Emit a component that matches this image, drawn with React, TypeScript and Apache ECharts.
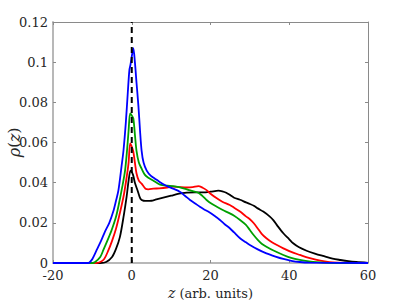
import React, { useEffect, useRef } from "react";
import * as echarts from "echarts";

const xTicks = { min: -20, max: 60, interval: 20 };
const yTicks = { min: 0, max: 0.12, interval: 0.02 };

const blackData: [number, number][] = [[-20,0],[-8,0],[-6.5,0.0005],[-5,0.003],[-4,0.007],[-3,0.013],[-2,0.024],[-1.3,0.033],[-0.8,0.041],[-0.3,0.046],[0.3,0.044],[0.8,0.040],[1.5,0.036],[2.2,0.032],[3,0.031],[4,0.0309],[5,0.031],[6,0.0315],[7,0.032],[8,0.0325],[10,0.0335],[12,0.0345],[14,0.035],[16,0.0352],[18,0.0352],[20,0.0355],[22,0.036],[23,0.0357],[24,0.035],[25,0.0338],[26,0.0325],[27.5,0.0315],[29,0.0302],[30,0.0294],[31,0.0285],[32,0.0272],[33.4,0.0256],[35,0.0232],[36,0.0212],[37,0.0185],[38.5,0.0148],[40,0.0118],[41,0.0098],[42.5,0.0078],[44.4,0.0061],[46.5,0.0047],[48.6,0.0035],[51,0.0022],[53,0.0015],[55,0.0009],[57,0.0005],[60,0.0001]];

const redData: [number, number][] = [[-20,0],[-9,0],[-8,0.0005],[-7,0.002],[-6,0.006],[-5,0.011],[-4,0.017],[-3,0.025],[-2,0.034],[-1.2,0.044],[-0.8,0.05],[-0.4,0.0596],[0,0.058],[0.4,0.0554],[0.8,0.05],[1.2,0.0447],[1.8,0.041],[2.5,0.0395],[3.5,0.037],[4.2,0.0367],[5.5,0.037],[7,0.0372],[9,0.0376],[10.5,0.038],[12,0.0378],[14,0.0376],[15.5,0.0378],[16.9,0.0383],[18,0.0375],[19,0.0363],[20,0.0345],[21.6,0.0322],[23,0.0305],[24.9,0.0289],[26,0.0275],[27.5,0.0256],[29,0.0232],[30,0.0218],[31,0.0198],[32,0.0172],[33,0.0145],[34.2,0.0123],[35.5,0.0105],[37,0.0088],[38.5,0.0073],[40.5,0.0055],[42.7,0.004],[45,0.0025],[47,0.0015],[49,0.0008],[51,0.0003],[54,0.0001],[60,0]];

const greenData: [number, number][] = [[-20,0],[-10,0],[-9.3,0.0005],[-8,0.003],[-7.2,0.0065],[-6,0.012],[-5.1,0.0164],[-4,0.023],[-3.2,0.03],[-2.4,0.038],[-1.7,0.046],[-1.2,0.056],[-0.8,0.066],[-0.4,0.0745],[0,0.0735],[0.4,0.072],[0.8,0.064],[1.2,0.056],[1.8,0.05],[2.5,0.047],[3.3,0.044],[4.2,0.0425],[5.5,0.041],[7.2,0.039],[9,0.0385],[10.5,0.0383],[12,0.0378],[14,0.0367],[15.5,0.0358],[16.9,0.035],[18,0.0333],[19,0.0314],[20.3,0.0295],[21.6,0.028],[23,0.0265],[24.9,0.0247],[26,0.0235],[27.5,0.0214],[29,0.019],[30,0.0164],[31,0.0138],[32,0.0115],[33,0.0096],[34.2,0.0081],[36,0.0062],[38.5,0.004],[40.5,0.0025],[42.7,0.0015],[45,0.0008],[47,0.0004],[50,0.0001],[60,0]];

const blueData: [number, number][] = [[-20,0],[-11,0],[-10.6,0.0005],[-10,0.002],[-8.9,0.0065],[-7.8,0.011],[-6.8,0.0156],[-5.7,0.02],[-4.7,0.0256],[-4,0.031],[-3.4,0.036],[-2.6,0.048],[-2.1,0.056],[-1.5,0.07],[-1,0.085],[-0.6,0.096],[-0.3,0.099],[0.1,0.104],[0.4,0.107],[0.8,0.1],[1.2,0.09],[1.7,0.078],[2.1,0.066],[2.5,0.056],[3,0.05],[3.8,0.046],[4.8,0.0435],[5.9,0.042],[7,0.0405],[8.4,0.0388],[9.5,0.0378],[10.5,0.037],[12.2,0.0355],[13.5,0.0335],[14.8,0.0314],[16,0.0298],[17.3,0.028],[18.3,0.0268],[19.4,0.0256],[21,0.0235],[22.4,0.0214],[23.6,0.0193],[24.9,0.0173],[26,0.0152],[27.5,0.0123],[29,0.0103],[30,0.009],[32,0.0068],[34.2,0.0048],[36.5,0.0032],[38.5,0.002],[40.5,0.0011],[42.7,0.0005],[45,0.0002],[60,0]];

const dashedLine: [number, number][] = [[0, 0], [0, 0.12]];

const seriesDefs = [
  { name: "black", color: "#000000", data: blackData },
  { name: "red", color: "#ff0000", data: redData },
  { name: "green", color: "#00a000", data: greenData },
  { name: "blue", color: "#0000ff", data: blueData },
];

const FONT = "DejaVu Serif";
const TXT = "#262626";

export default function App() {
  const ref = useRef<HTMLDivElement>(null);
  useEffect(() => {
    if (!ref.current) return;
    const chart = echarts.init(ref.current, null, { renderer: "svg" });
    const thinLine = { show: true, onZero: false, lineStyle: { color: "#8a8a8a", width: 1 } };
    const thickLine = { show: true, onZero: false, lineStyle: { color: "#b8b8b8", width: 2 } };
    const tick = { show: true, inside: true, length: 3, lineStyle: { color: "#8a8a8a" } };
    chart.setOption({
      animation: false,
      backgroundColor: "#ffffff",
      grid: { left: 53, right: 39, top: 22, bottom: 42, containLabel: false, outerBoundsMode: "none" },
      xAxis: [
        {
          type: "value", min: xTicks.min, max: xTicks.max, interval: xTicks.interval,
          position: "bottom",
          axisLine: thickLine,
          axisTick: tick,
          axisLabel: { color: TXT, fontFamily: FONT, fontSize: 13, margin: 6, lineHeight: 12 },
          splitLine: { show: false },
          name: "{i|z} (arb. units)",
          nameLocation: "middle",
          nameGap: 23,
          nameMoveOverlap: false,
          nameTextStyle: {
            color: TXT, fontFamily: FONT, fontSize: 13,
            rich: { i: { fontStyle: "italic", fontFamily: FONT, fontSize: 14, color: TXT } },
          },
        },
        {
          type: "value", min: xTicks.min, max: xTicks.max, interval: xTicks.interval,
          position: "top",
          axisLine: thinLine,
          axisTick: tick,
          axisLabel: { show: false },
          splitLine: { show: false },
        },
      ],
      yAxis: [
        {
          type: "value", min: yTicks.min, max: yTicks.max, interval: yTicks.interval,
          position: "left",
          axisLine: thickLine,
          axisTick: tick,
          axisLabel: { color: TXT, fontFamily: FONT, fontSize: 13, margin: 5, lineHeight: 11 },
          splitLine: { show: false },
          name: "{i|ρ}({i|z})",
          nameLocation: "middle",
          nameGap: 31,
          nameRotate: 90,
          nameMoveOverlap: false,
          nameTextStyle: {
            color: TXT, fontFamily: FONT, fontSize: 15,
            rich: { i: { fontStyle: "italic", fontFamily: FONT, fontSize: 16, color: TXT } },
          },
        },
        {
          type: "value", min: yTicks.min, max: yTicks.max, interval: yTicks.interval,
          position: "right",
          axisLine: thinLine,
          axisTick: tick,
          axisLabel: { show: false },
          splitLine: { show: false },
        },
      ],
      series: [
        ...seriesDefs.map((s) => ({
          name: s.name,
          type: "line",
          xAxisIndex: 0,
          yAxisIndex: 0,
          data: s.data,
          showSymbol: false,
          symbol: "none",
          smooth: 0.3,
          lineStyle: { color: s.color, width: 1.8 },
          emphasis: { disabled: true },
          z: 3,
        })),
        {
          name: "dashed",
          type: "line",
          xAxisIndex: 0,
          yAxisIndex: 0,
          data: dashedLine,
          symbol: "none",
          showSymbol: false,
          lineStyle: { color: "#000000", width: 2, type: [6, 4] },
          emphasis: { disabled: true },
          z: 4,
        },
      ],
    });
    return () => chart.dispose();
  }, []);
  return <div ref={ref} style={{ width: 407, height: 305, position: "absolute", left: 0, top: 0 }} />;
}
